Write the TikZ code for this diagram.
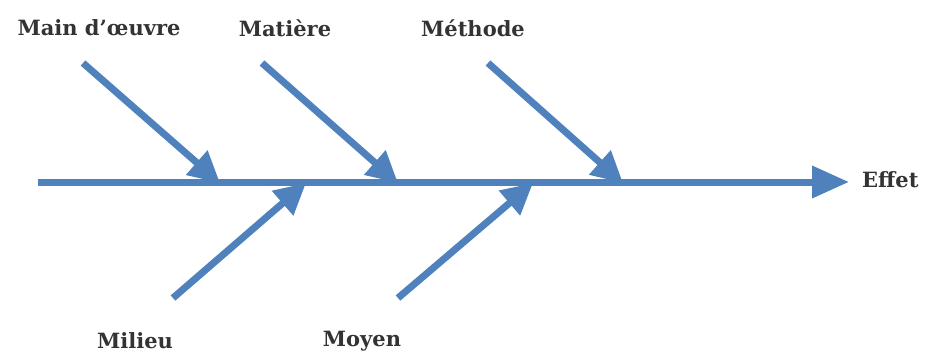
\documentclass[tikz,border=0pt]{standalone}
\usepackage{fontspec}
\setmainfont{DejaVu Serif}
\usetikzlibrary{arrows.meta,positioning}
\usepackage{xcolor}
\definecolor{boneblue}{RGB}{79,129,189}

\begin{document}
\begin{tikzpicture}[x=1bp,y=1bp,%
		   cause/.style={font=\bfseries\fontsize{21bp}{25bp}\selectfont,text=black!80,inner sep=0pt},
		   bone/.style={draw=boneblue,line width=7bp,-{Triangle[length=31bp,width=31bp]}},
		   spine/.style={bone,-{Triangle[length=37bp,width=31bp]}}]

	\useasboundingbox (0,0) rectangle (928,356);

	\coordinate (tail) at (38,174);
	\coordinate (head) at (849,174);
	\draw[spine] (tail) -- (head);
	\node[cause,anchor=west] (effet) at (862,176) {Effet};

	    \foreach \name/\lx/\ly/\sx/\sy/\tx [count=\i] in {%
		    Main d’œuvre/99/328/83/293/220,%
		    Matière/285/328/262/293/398,%
		    Méthode/473/328/488/293/623,%
		    Milieu/135/15/173/58/306,%
		    Moyen/362/15/398/58/533%
	       } { \node[cause] (c-\i) at (\lx,\ly) {\name};
		   \coordinate (from-\i) at (\sx,\sy);
		   \coordinate (to-\i) at (\tx,173);
		   \draw[bone] (from-\i) -- (to-\i);% one bone per cause
	       }
	\end{tikzpicture}
\end{document}
